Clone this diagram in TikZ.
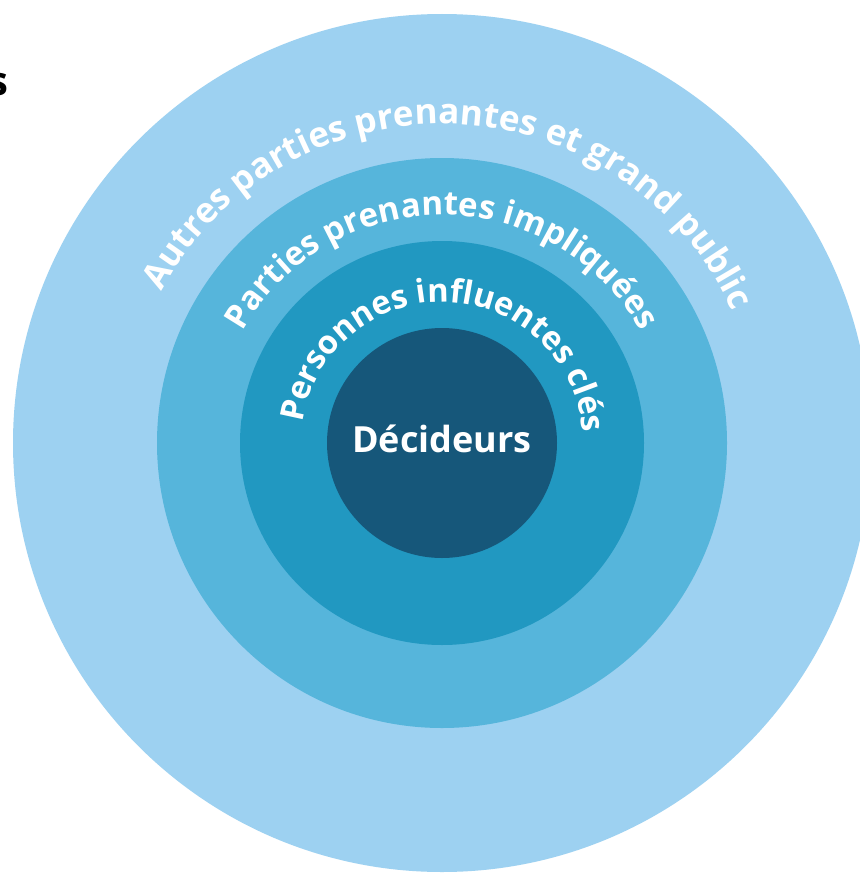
\documentclass[tikz,border=0pt]{standalone}
\usepackage{fontspec}
\setmainfont{Open Sans}
\usetikzlibrary{decorations.text}
\definecolor{ringA}{RGB}{157,209,241}
\definecolor{ringB}{RGB}{86,181,219}
\definecolor{ringC}{RGB}{33,152,193}
\definecolor{ringD}{RGB}{22,87,122}
\begin{document}
\begin{tikzpicture}[x=1pt,y=1pt,
  ring/.style={circle, inner sep=0pt, draw=none},
  arctext/.style={decorate, decoration={text along path, text align=center, text color=white, text={#1}}}]
\useasboundingbox (0,0) rectangle (859,-875);
\fill[white] (0,0) rectangle (859,-875);
\coordinate (c) at (442,-443);
\node[ring, fill=ringA, minimum size=858pt] (outer) at (c) {};
\node[ring, fill=ringB, minimum size=570pt] (middle) at (c) {};
\node[ring, fill=ringC, minimum size=404pt] (inner) at (c) {};
\node[ring, fill=ringD, minimum size=230pt] (core) at (c) {};
\node[text=white, inner sep=0pt, anchor=base, font=\bfseries\fontsize{36}{42}\selectfont] (dec) at (442,-452) {Décideurs};
\path[arctext={|\bfseries\fontsize{35}{41}\selectfont|Autres parties prenantes et grand public}]
  ([shift={(178:319pt)}]c) arc[start angle=178, end angle=-2, radius=319];
\path[arctext={|\bfseries\fontsize{33}{39}\selectfont|Parties prenantes impliquées}]
  ([shift={(180:228pt)}]c) arc[start angle=180, end angle=0, radius=228];
\path[arctext={|\bfseries\fontsize{32.5}{38}\selectfont|Personnes influentes clés}]
  ([shift={(178:141pt)}]c) arc[start angle=178, end angle=-2, radius=141];
\node[inner sep=0pt, anchor=base east, font=\bfseries\fontsize{40}{48}\selectfont] (s) at (9,-95) {s};
\end{tikzpicture}
\end{document}
